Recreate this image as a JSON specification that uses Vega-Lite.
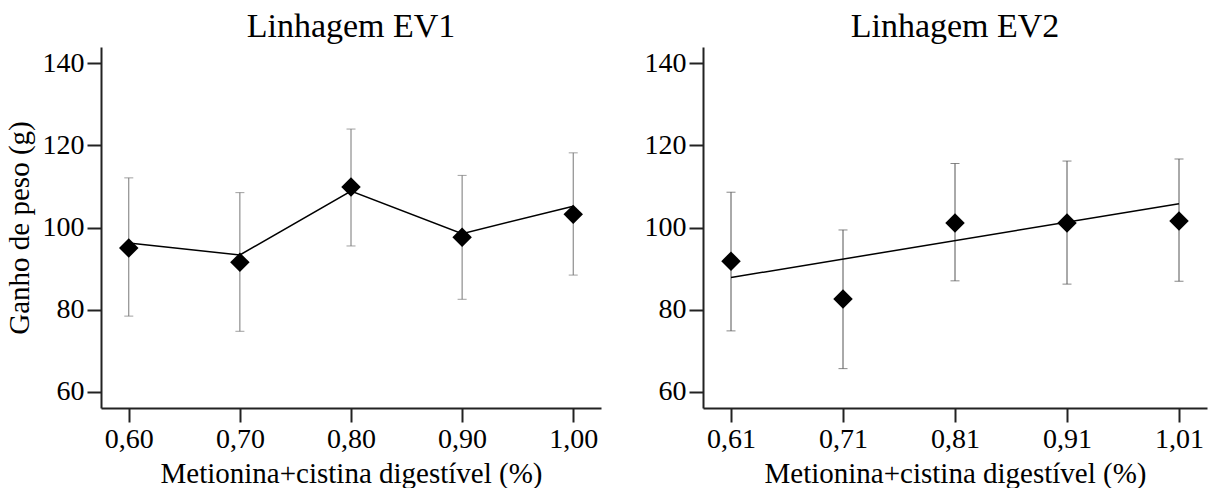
{
  "$schema": "https://vega.github.io/schema/vega-lite/v6.json",
  "background": "white",
  "padding": {"left": 5, "top": 10, "right": 5, "bottom": 0},
  "spacing": 43,
  "config": {
    "font": "Liberation Serif",
    "view": {"stroke": null},
    "axis": {
      "grid": false,
      "domainColor": "#222",
      "domainWidth": 2,
      "tickColor": "#222",
      "tickWidth": 2,
      "tickSize": 14,
      "labelColor": "#000",
      "labelFontSize": 28,
      "labelPadding": 3,
      "titleColor": "#000",
      "titleFontSize": 29,
      "titleFontWeight": "normal"
    },
    "title": {"fontSize": 34, "fontWeight": "normal", "color": "#000", "baseline": "alphabetic", "offset": 3}
  },
  "datasets": {
    "ev1": [
      {"x": 0.60, "y": 95.0, "lo": 78.4, "hi": 112.1, "fit": 96.2},
      {"x": 0.70, "y": 91.5, "lo": 74.7, "hi": 108.5, "fit": 93.3},
      {"x": 0.80, "y": 109.9, "lo": 95.5, "hi": 124.0, "fit": 108.9},
      {"x": 0.90, "y": 97.6, "lo": 82.5, "hi": 112.7, "fit": 98.5},
      {"x": 1.00, "y": 103.2, "lo": 88.4, "hi": 118.2, "fit": 105.2}
    ],
    "ev2": [
      {"x": 0.61, "y": 91.8, "lo": 74.8, "hi": 108.6},
      {"x": 0.71, "y": 82.6, "lo": 65.6, "hi": 99.4},
      {"x": 0.81, "y": 101.1, "lo": 87.0, "hi": 115.6},
      {"x": 0.91, "y": 101.1, "lo": 86.2, "hi": 116.2},
      {"x": 1.01, "y": 101.6, "lo": 86.9, "hi": 116.7}
    ],
    "ev2fit": [
      {"x": 0.61, "fit": 87.8},
      {"x": 1.01, "fit": 105.8}
    ]
  },
  "hconcat": [
    {
      "width": 500,
      "height": 361,
      "title": "Linhagem EV1",
      "layer": [
        {
          "data": {"name": "ev1"},
          "mark": {"type": "errorbar", "color": "#777", "thickness": 1, "ticks": {"size": 9, "color": "#777", "thickness": 1}},
          "encoding": {
            "x": {"field": "x", "type": "quantitative", "scale": {"domain": [0.575, 1.025], "nice": false, "zero": false},
              "axis": {"values": [0.6, 0.7, 0.8, 0.9, 1.0], "labelExpr": "replace(format(datum.value, '.2f'), '.', ',')", "title": "Metionina+cistina digestível (%)", "titlePadding": 6}},
            "y": {"field": "lo", "type": "quantitative", "scale": {"domain": [56, 144], "nice": false, "zero": false},
              "axis": {"values": [60, 80, 100, 120, 140], "title": "Ganho de peso (g)", "titlePadding": 8}},
            "y2": {"field": "hi"}
          }
        },
        {
          "data": {"name": "ev1"},
          "mark": {"type": "line", "color": "#000", "strokeWidth": 1.5},
          "encoding": {
            "x": {"field": "x", "type": "quantitative"},
            "y": {"field": "fit", "type": "quantitative"}
          }
        },
        {
          "data": {"name": "ev1"},
          "mark": {"type": "point", "shape": "diamond", "filled": true, "color": "#000", "size": 380, "opacity": 1},
          "encoding": {
            "x": {"field": "x", "type": "quantitative"},
            "y": {"field": "y", "type": "quantitative"}
          }
        }
      ]
    },
    {
      "width": 504,
      "height": 361,
      "title": "Linhagem EV2",
      "layer": [
        {
          "data": {"name": "ev2"},
          "mark": {"type": "errorbar", "color": "#555", "thickness": 1, "ticks": {"size": 9, "color": "#555", "thickness": 1}},
          "encoding": {
            "x": {"field": "x", "type": "quantitative", "scale": {"domain": [0.585, 1.035], "nice": false, "zero": false},
              "axis": {"values": [0.61, 0.71, 0.81, 0.91, 1.01], "labelExpr": "replace(format(datum.value, '.2f'), '.', ',')", "title": "Metionina+cistina digestível (%)", "titlePadding": 6}},
            "y": {"field": "lo", "type": "quantitative", "scale": {"domain": [56, 144], "nice": false, "zero": false},
              "axis": {"values": [60, 80, 100, 120, 140], "title": null}},
            "y2": {"field": "hi"}
          }
        },
        {
          "data": {"name": "ev2fit"},
          "mark": {"type": "line", "color": "#000", "strokeWidth": 1.5},
          "encoding": {
            "x": {"field": "x", "type": "quantitative"},
            "y": {"field": "fit", "type": "quantitative"}
          }
        },
        {
          "data": {"name": "ev2"},
          "mark": {"type": "point", "shape": "diamond", "filled": true, "color": "#000", "size": 380, "opacity": 1},
          "encoding": {
            "x": {"field": "x", "type": "quantitative"},
            "y": {"field": "y", "type": "quantitative"}
          }
        }
      ]
    }
  ]
}
